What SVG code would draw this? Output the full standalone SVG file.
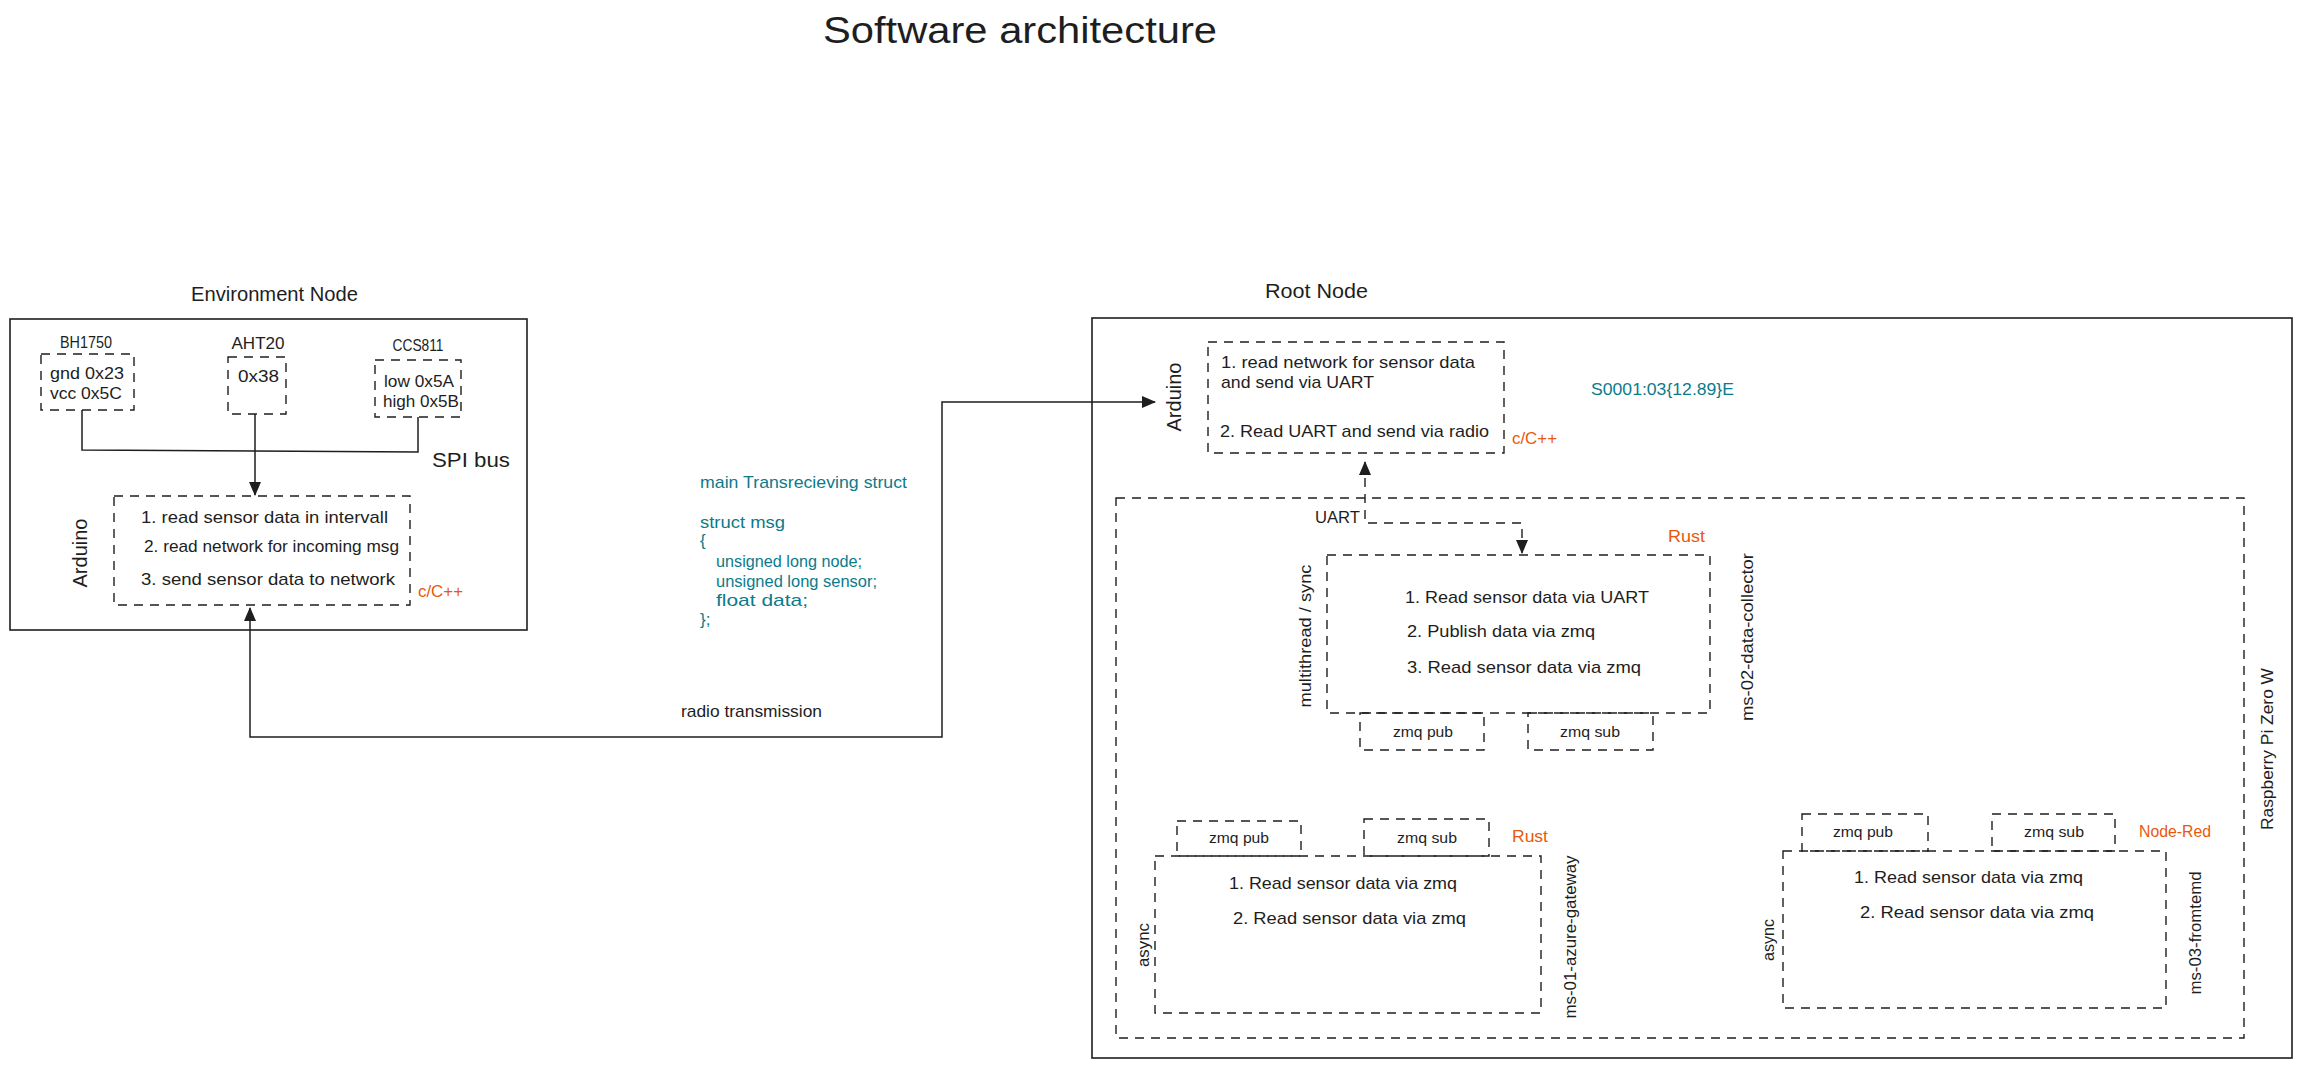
<svg xmlns="http://www.w3.org/2000/svg" width="2302" height="1070" viewBox="0 0 2302 1070">
<style>
text{font-family:"Liberation Sans","DejaVu Sans",sans-serif;fill:#1e1e1e;font-size:17px}
.solid{fill:none;stroke:#1e1e1e;stroke-width:1.6}
.dash{fill:none;stroke:#1e1e1e;stroke-width:1.4;stroke-dasharray:9 7}
.wire{fill:none;stroke:#1e1e1e;stroke-width:1.5}
.dwire{fill:none;stroke:#1e1e1e;stroke-width:1.4;stroke-dasharray:9 7}
.or{fill:#e8590c}
.teal{fill:#0c7b8c}
.h{font-size:20px}
.s{font-size:15px}
.m{text-anchor:middle}
</style>
<defs>
<marker id="ah" viewBox="0 0 14 12" refX="13" refY="6" markerWidth="14" markerHeight="12" markerUnits="userSpaceOnUse" orient="auto-start-reverse">
<path d="M0,0 L14,6 L0,12 Z" fill="#1e1e1e"/>
</marker>
</defs>

<g id="title"><text x="1020" y="43" class="m" style="font-size:36px" textLength="394" lengthAdjust="spacingAndGlyphs">Software architecture</text></g>

<g id="environment-node">
<rect class="solid" x="10" y="319" width="517" height="311"/>
<text class="h" x="191" y="301" textLength="167" lengthAdjust="spacingAndGlyphs">Environment Node</text>
<text class="h" x="432" y="467" textLength="78" lengthAdjust="spacingAndGlyphs">SPI bus</text>
</g>

<g id="bh1750">
<text class="m" x="86" y="348" textLength="52" lengthAdjust="spacingAndGlyphs">BH1750</text>
<rect class="dash" x="41" y="354" width="93" height="56"/>
<text x="50" y="379" textLength="74" lengthAdjust="spacingAndGlyphs">gnd 0x23</text>
<text x="50" y="399" textLength="72" lengthAdjust="spacingAndGlyphs">vcc 0x5C</text>
</g>

<g id="aht20">
<text class="m" x="258" y="349" textLength="53" lengthAdjust="spacingAndGlyphs">AHT20</text>
<rect class="dash" x="228" y="357" width="58" height="57"/>
<text x="238" y="382" textLength="41" lengthAdjust="spacingAndGlyphs">0x38</text>
</g>

<g id="ccs811">
<text class="m" x="418" y="351" textLength="51" lengthAdjust="spacingAndGlyphs">CCS811</text>
<rect class="dash" x="375" y="360" width="86" height="57"/>
<text x="384" y="387" textLength="70" lengthAdjust="spacingAndGlyphs">low 0x5A</text>
<text x="383" y="407" textLength="76" lengthAdjust="spacingAndGlyphs">high 0x5B</text>
</g>

<g id="env-arduino">
<rect class="dash" x="114" y="496" width="296" height="109"/>
<text class="h m" transform="translate(80,553) rotate(-90)" y="7" textLength="69" lengthAdjust="spacingAndGlyphs">Arduino</text>
<text x="141" y="523" textLength="247" lengthAdjust="spacingAndGlyphs">1. read sensor data in intervall</text>
<text x="144" y="552" textLength="255" lengthAdjust="spacingAndGlyphs">2. read network for incoming msg</text>
<text x="141" y="585" textLength="254" lengthAdjust="spacingAndGlyphs">3. send sensor data to network</text>
<text class="or" x="418" y="597" textLength="45" lengthAdjust="spacingAndGlyphs">c/C++</text>
</g>

<g id="struct-note">
<text class="teal" x="700" y="488" textLength="207" lengthAdjust="spacingAndGlyphs">main Transrecieving struct</text>
<text class="teal" x="700" y="528" textLength="85" lengthAdjust="spacingAndGlyphs">struct msg</text>
<text class="teal" x="700" y="546">{</text>
<text class="teal" x="716" y="567" textLength="146" lengthAdjust="spacingAndGlyphs">unsigned long node;</text>
<text class="teal" x="716" y="587" textLength="161" lengthAdjust="spacingAndGlyphs">unsigned long sensor;</text>
<text class="teal" x="716" y="606" textLength="92" lengthAdjust="spacingAndGlyphs">float data;</text>
<text class="teal" x="700" y="625">};</text>
</g>

<g id="root-node">
<rect class="solid" x="1092" y="318" width="1200" height="740"/>
<text class="h" x="1265" y="298" textLength="103" lengthAdjust="spacingAndGlyphs">Root Node</text>
<text class="teal" x="1591" y="395" textLength="143" lengthAdjust="spacingAndGlyphs">S0001:03{12.89}E</text>
</g>

<g id="root-arduino">
<rect class="dash" x="1208" y="342" width="296" height="111"/>
<text class="h m" transform="translate(1174,397) rotate(-90)" y="7" textLength="69" lengthAdjust="spacingAndGlyphs">Arduino</text>
<text x="1221" y="368" textLength="254" lengthAdjust="spacingAndGlyphs">1. read network for sensor data</text>
<text x="1221" y="388" textLength="153" lengthAdjust="spacingAndGlyphs">and send via UART</text>
<text x="1220" y="437" textLength="269" lengthAdjust="spacingAndGlyphs">2. Read UART and send via radio</text>
<text class="or" x="1512" y="444" textLength="45" lengthAdjust="spacingAndGlyphs">c/C++</text>
</g>

<g id="raspberry-pi">
<rect class="dash" x="1116" y="498" width="1128" height="540"/>
<text class="m" transform="translate(2267,749) rotate(-90)" y="6" textLength="162" lengthAdjust="spacingAndGlyphs">Raspberry Pi Zero W</text>
</g>

<g id="ms-02-data-collector">
<rect class="dash" x="1327" y="555" width="383" height="158"/>
<text class="or" x="1668" y="542" textLength="37" lengthAdjust="spacingAndGlyphs">Rust</text>
<text class="m" transform="translate(1305,636) rotate(-90)" y="6" textLength="143" lengthAdjust="spacingAndGlyphs">multithread / sync</text>
<text class="m" transform="translate(1747,637) rotate(-90)" y="6" textLength="168" lengthAdjust="spacingAndGlyphs">ms-02-data-collector</text>
<text x="1405" y="603" textLength="244" lengthAdjust="spacingAndGlyphs">1. Read sensor data via UART</text>
<text x="1407" y="637" textLength="188" lengthAdjust="spacingAndGlyphs">2. Publish data via zmq</text>
<text x="1407" y="673" textLength="234" lengthAdjust="spacingAndGlyphs">3. Read sensor data via zmq</text>
<rect class="dash" x="1360" y="713" width="124" height="37"/>
<text class="s m" x="1423" y="737" textLength="60" lengthAdjust="spacingAndGlyphs">zmq pub</text>
<rect class="dash" x="1528" y="713" width="125" height="37"/>
<text class="s m" x="1590" y="737" textLength="60" lengthAdjust="spacingAndGlyphs">zmq sub</text>
</g>

<g id="ms-01-azure-gateway">
<rect class="dash" x="1155" y="856" width="386" height="157"/>
<rect class="dash" x="1177" y="821" width="124" height="35"/>
<text class="s m" x="1239" y="843" textLength="60" lengthAdjust="spacingAndGlyphs">zmq pub</text>
<rect class="dash" x="1364" y="819" width="125" height="37"/>
<text class="s m" x="1427" y="843" textLength="60" lengthAdjust="spacingAndGlyphs">zmq sub</text>
<text class="or" x="1512" y="842" textLength="36" lengthAdjust="spacingAndGlyphs">Rust</text>
<text x="1229" y="889" textLength="228" lengthAdjust="spacingAndGlyphs">1. Read sensor data via zmq</text>
<text x="1233" y="924" textLength="233" lengthAdjust="spacingAndGlyphs">2. Read sensor data via zmq</text>
<text class="m" transform="translate(1143,945) rotate(-90)" y="6" textLength="44" lengthAdjust="spacingAndGlyphs">async</text>
<text class="m" transform="translate(1570,937) rotate(-90)" y="6" textLength="163" lengthAdjust="spacingAndGlyphs">ms-01-azure-gateway</text>
</g>

<g id="ms-03-fromtemd">
<rect class="dash" x="1783" y="851" width="383" height="157"/>
<rect class="dash" x="1802" y="814" width="126" height="37"/>
<text class="s m" x="1863" y="837" textLength="60" lengthAdjust="spacingAndGlyphs">zmq pub</text>
<rect class="dash" x="1992" y="814" width="123" height="37"/>
<text class="s m" x="2054" y="837" textLength="60" lengthAdjust="spacingAndGlyphs">zmq sub</text>
<text class="or" x="2139" y="837" textLength="72" lengthAdjust="spacingAndGlyphs">Node-Red</text>
<text x="1854" y="883" textLength="229" lengthAdjust="spacingAndGlyphs">1. Read sensor data via zmq</text>
<text x="1860" y="918" textLength="234" lengthAdjust="spacingAndGlyphs">2. Read sensor data via zmq</text>
<text class="m" transform="translate(1768,940) rotate(-90)" y="6" textLength="42" lengthAdjust="spacingAndGlyphs">async</text>
<text class="m" transform="translate(2195,933) rotate(-90)" y="6" textLength="123" lengthAdjust="spacingAndGlyphs">ms-03-fromtemd</text>
</g>

<g id="connectors">
<polyline class="wire" points="82,410 82,450 418,452 418,417"/>
<line class="wire" x1="255" y1="414" x2="255" y2="495" marker-end="url(#ah)"/>
<polyline class="wire" points="250,608 250,737 942,737 942,402 1155,402" marker-start="url(#ah)" marker-end="url(#ah)"/>
<text x="681" y="717" textLength="141" lengthAdjust="spacingAndGlyphs">radio transmission</text>
<polyline class="dwire" points="1365,462 1365,523 1522,523 1522,553" marker-start="url(#ah)" marker-end="url(#ah)"/>
<text x="1315" y="523" textLength="45" lengthAdjust="spacingAndGlyphs">UART</text>
</g>
</svg>
